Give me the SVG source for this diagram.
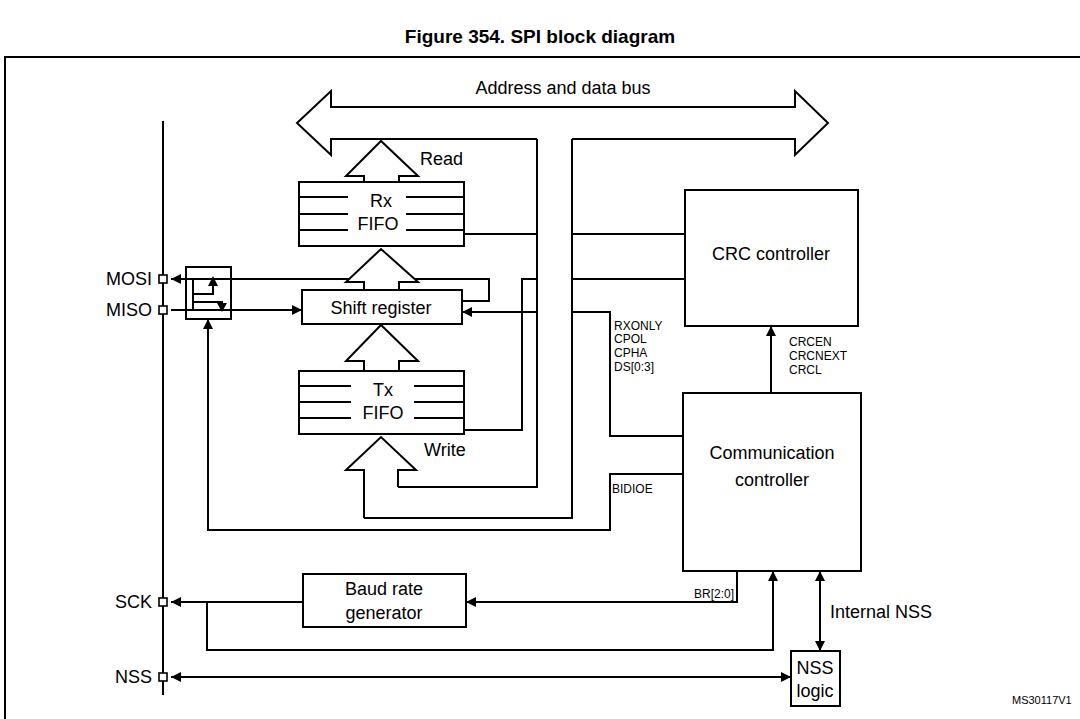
<svg xmlns="http://www.w3.org/2000/svg" width="1080" height="719" viewBox="0 0 1080 719">
<defs>
<marker id="a" viewBox="0 0 10 10" refX="10" refY="5" markerWidth="5" markerHeight="5" orient="auto-start-reverse"><path d="M0,0 L10,5 L0,10 z" fill="#000"/></marker>
<style>
.l{fill:none;stroke:#000;stroke-width:2}
.b{fill:#fff;stroke:#000;stroke-width:2}
.t{font-family:"Liberation Sans",Arial,sans-serif;font-size:18px;fill:#000;text-anchor:middle}
.s{font-family:"Liberation Sans",Arial,sans-serif;font-size:12px;fill:#000}
.p{fill:#fff;stroke:#000;stroke-width:1.6}
</style>
</defs>
<rect width="1080" height="719" fill="#fff"/>
<text x="540" y="43" class="t" style="font-weight:bold;font-size:19px">Figure 354. SPI block diagram</text>
<path d="M5,719 V57 H1080" class="l"/>
<text x="1012" y="704" class="s" style="font-size:11px">MS30117V1</text>

<g id="connectors">
<path class="l" d="M163,121 V695"/>
<path class="l" d="M537,139 V487 H398"/>
<path class="l" d="M572,139 V518 H364"/>
<path class="l" d="M464,234 H537 M572,234 H685 M572,279 H685"/>
<path class="l" d="M464,430 H522 V279 H537"/>
<path class="l" d="M537,312 H462" marker-end="url(#a)"/>
<path class="l" d="M572,312 H610 V436 H683"/>
<path class="l" d="M462,301 H489 V279 H171" marker-end="url(#a)"/>
<path class="l" d="M171,310 H302" marker-end="url(#a)"/>
<path class="l" d="M683,474 H610 V530 H208 V319" marker-end="url(#a)"/>
<path class="l" d="M771,393 V326" marker-end="url(#a)"/>
<path class="l" d="M737,571 V602 H466" marker-end="url(#a)"/>
<path class="l" d="M303,602 H171" marker-end="url(#a)"/>
<path class="l" d="M207,602 V650 H773 V571" marker-end="url(#a)"/>
<path class="l" d="M171,677 H791" marker-start="url(#a)" marker-end="url(#a)"/>
<path class="l" d="M820,571 V651" marker-start="url(#a)" marker-end="url(#a)"/>
<path class="l" d="M193,279 V309 M193,294 H213 V284 M193,302 H222 V306" />
<path d="M208,286 L213,276 L218,286 z M217,303 L222,312 L227,303 z" fill="#000"/>
</g>

<g id="bus">
<path fill="#fff" d="M297,123 L331,91 V107 H795 V91 L828,123 L795,155 V139 H331 V155 Z"/>
<path class="l" d="M572,139 H795 V155 L828,123 L795,91 V107 H331 V91 L297,123 L331,155 V139 H537"/>
<text x="563" y="94" class="t">Address and data bus</text>
</g>

<g id="read-arrow"><path class="b" d="M364,182 V176 H346 L381,141 L418,176 H399 V182"/><text x="420" y="165" class="t" style="text-anchor:start">Read</text></g>
<g id="shift-up"><path class="b" d="M364,290 V282 H346 L381,249 L418,282 H399 V290"/></g>
<g id="tx-up"><path class="b" d="M364,371 V361 H346 L381,325 L418,361 H399 V371"/></g>
<g id="write-arrow"><path class="b" d="M364,518 V470 H346 L381,437 L416,470 H398 V487"/><text x="424" y="456" class="t" style="text-anchor:start">Write</text></g>

<g id="rx-fifo">
<rect x="299" y="182" width="165" height="64" class="b"/>
<path class="l" d="M299,197 H348 M406,197 H464 M299,214 H348 M406,214 H464 M299,230 H348 M406,230 H464"/>
<text x="381" y="207" class="t">Rx</text><text x="378" y="230" class="t">FIFO</text>
</g>
<g id="shift-register"><rect x="302" y="290" width="160" height="34" class="b"/><text x="381" y="314" class="t">Shift register</text></g>
<g id="tx-fifo">
<rect x="299" y="371" width="165" height="63" class="b"/>
<path class="l" d="M299,386 H351 M414,386 H464 M299,402 H351 M414,402 H464 M299,418 H351 M414,418 H464"/>
<text x="383" y="396" class="t">Tx</text><text x="383" y="419" class="t">FIFO</text>
</g>
<g id="mux"><rect x="186" y="267" width="45" height="52" class="l"/></g>

<g id="crc-controller"><rect x="685" y="190" width="173" height="136" class="b"/><text x="771" y="260" class="t">CRC controller</text></g>
<g id="comm-controller"><rect x="683" y="393" width="178" height="178" class="b"/><text x="772" y="459" class="t">Communication</text><text x="772" y="486" class="t">controller</text></g>
<g id="baud"><rect x="303" y="574" width="163" height="53" class="b"/><text x="384" y="595" class="t">Baud rate</text><text x="384" y="619" class="t">generator</text></g>
<g id="nss-logic"><rect x="791" y="651" width="49" height="55" class="b"/><text x="815" y="674" class="t">NSS</text><text x="815" y="697" class="t">logic</text></g>

<g id="labels">
<text class="s" x="614" y="330">RXONLY</text><text class="s" x="614" y="343">CPOL</text><text class="s" x="614" y="357">CPHA</text><text class="s" x="614" y="371">DS[0:3]</text>
<text class="s" x="789" y="346">CRCEN</text><text class="s" x="789" y="360">CRCNEXT</text><text class="s" x="789" y="374">CRCL</text>
<text class="s" x="612" y="493">BIDIOE</text>
<text class="s" x="734" y="598" style="text-anchor:end">BR[2:0]</text>
<text class="t" x="830" y="618" style="text-anchor:start">Internal NSS</text>
<text class="t" x="152" y="285" style="text-anchor:end">MOSI</text>
<text class="t" x="152" y="316" style="text-anchor:end">MISO</text>
<text class="t" x="152" y="608" style="text-anchor:end">SCK</text>
<text class="t" x="152" y="683" style="text-anchor:end">NSS</text>
</g>
<g id="pins">
<rect x="159" y="275" width="8" height="8" class="p"/><rect x="159" y="306" width="8" height="8" class="p"/>
<rect x="159" y="598" width="8" height="8" class="p"/><rect x="159" y="673" width="8" height="8" class="p"/>
</g>
</svg>
